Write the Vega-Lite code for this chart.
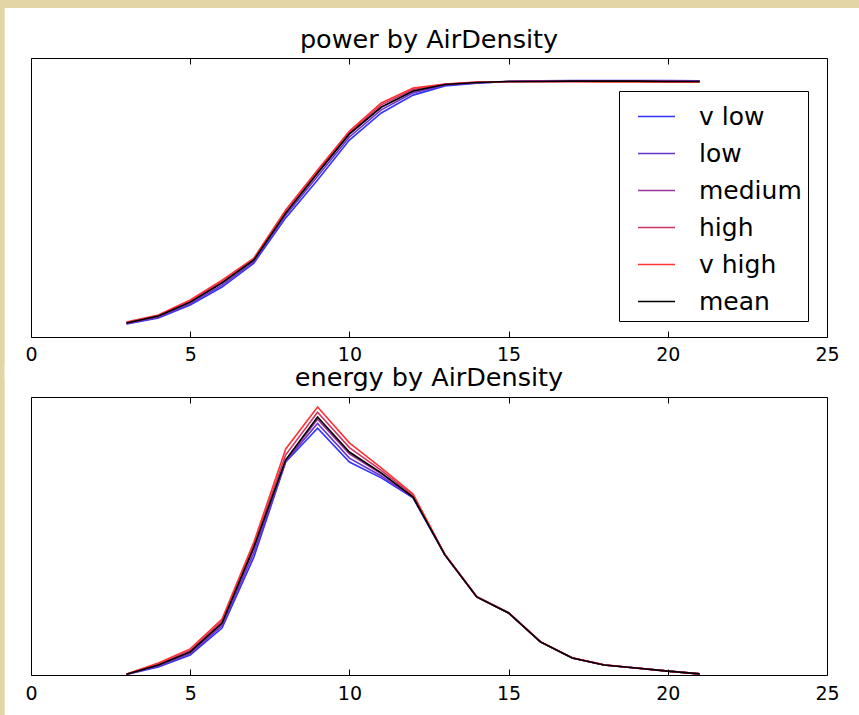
{
  "$schema": "https://vega.github.io/schema/vega-lite/v6.json",
  "background": "#e3d5a6",
  "padding": {"left": 4, "top": 8, "right": 0, "bottom": 0},
  "autosize": {"type": "pad"},
  "bounds": "flush",
  "spacing": 60,
  "config": {
    "font": "DejaVu Sans",
    "view": {"stroke": null},
    "title": {"font": "DejaVu Sans", "fontSize": 25.5, "fontWeight": "normal", "color": "black", "offset": 0},
    "axis": {"grid": false, "labelFont": "DejaVu Sans", "labelFontSize": 19, "labelColor": "black", "labelFlush": false, "domain": true, "domainColor": "black", "domainWidth": 1, "tickColor": "black", "tickSize": -6, "tickWidth": 1, "title": null, "zindex": 2, "labelPadding": 15},
    "legend": {"labelFont": "DejaVu Sans"}
  },
  "datasets": {
    "power": [
      {"ws": 3, "v low": 0.047, "low": 0.048, "medium": 0.050, "high": 0.052, "v high": 0.054, "mean": 0.050},
      {"ws": 4, "v low": 0.068, "low": 0.071, "medium": 0.074, "high": 0.077, "v high": 0.079, "mean": 0.075},
      {"ws": 5, "v low": 0.115, "low": 0.119, "medium": 0.124, "high": 0.129, "v high": 0.133, "mean": 0.125},
      {"ws": 6, "v low": 0.179, "low": 0.186, "medium": 0.193, "high": 0.199, "v high": 0.204, "mean": 0.194},
      {"ws": 7, "v low": 0.265, "low": 0.270, "medium": 0.276, "high": 0.280, "v high": 0.283, "mean": 0.276},
      {"ws": 8, "v low": 0.427, "low": 0.436, "medium": 0.443, "high": 0.450, "v high": 0.455, "mean": 0.444},
      {"ws": 9, "v low": 0.563, "low": 0.576, "medium": 0.587, "high": 0.594, "v high": 0.599, "mean": 0.588},
      {"ws": 10, "v low": 0.706, "low": 0.717, "medium": 0.727, "high": 0.733, "v high": 0.738, "mean": 0.728},
      {"ws": 11, "v low": 0.803, "low": 0.814, "medium": 0.823, "high": 0.832, "v high": 0.839, "mean": 0.824},
      {"ws": 12, "v low": 0.867, "low": 0.875, "medium": 0.881, "high": 0.887, "v high": 0.892, "mean": 0.882},
      {"ws": 13, "v low": 0.900, "low": 0.903, "medium": 0.905, "high": 0.906, "v high": 0.907, "mean": 0.905},
      {"ws": 14, "v low": 0.910, "low": 0.911, "medium": 0.912, "high": 0.913, "v high": 0.914, "mean": 0.912},
      {"ws": 15, "v low": 0.916, "low": 0.916, "medium": 0.916, "high": 0.916, "v high": 0.915, "mean": 0.916},
      {"ws": 16, "v low": 0.918, "low": 0.917, "medium": 0.917, "high": 0.916, "v high": 0.915, "mean": 0.916},
      {"ws": 17, "v low": 0.919, "low": 0.918, "medium": 0.917, "high": 0.916, "v high": 0.915, "mean": 0.917},
      {"ws": 18, "v low": 0.919, "low": 0.918, "medium": 0.917, "high": 0.916, "v high": 0.914, "mean": 0.917},
      {"ws": 19, "v low": 0.919, "low": 0.918, "medium": 0.917, "high": 0.916, "v high": 0.914, "mean": 0.917},
      {"ws": 20, "v low": 0.919, "low": 0.918, "medium": 0.917, "high": 0.915, "v high": 0.913, "mean": 0.916},
      {"ws": 21, "v low": 0.918, "low": 0.917, "medium": 0.916, "high": 0.915, "v high": 0.913, "mean": 0.916}
    ],
    "energy": [
      {"ws": 3, "v low": 0.002, "low": 0.003, "medium": 0.003, "high": 0.003, "v high": 0.004, "mean": 0.003},
      {"ws": 4, "v low": 0.029, "low": 0.032, "medium": 0.035, "high": 0.039, "v high": 0.043, "mean": 0.036},
      {"ws": 5, "v low": 0.072, "low": 0.077, "medium": 0.082, "high": 0.088, "v high": 0.094, "mean": 0.083},
      {"ws": 6, "v low": 0.169, "low": 0.177, "medium": 0.184, "high": 0.194, "v high": 0.201, "mean": 0.187},
      {"ws": 7, "v low": 0.424, "low": 0.440, "medium": 0.455, "high": 0.468, "v high": 0.478, "mean": 0.460},
      {"ws": 8, "v low": 0.766, "low": 0.769, "medium": 0.772, "high": 0.792, "v high": 0.813, "mean": 0.774},
      {"ws": 9, "v low": 0.888, "low": 0.905, "medium": 0.920, "high": 0.945, "v high": 0.964, "mean": 0.928},
      {"ws": 10, "v low": 0.766, "low": 0.780, "medium": 0.795, "high": 0.818, "v high": 0.835, "mean": 0.802},
      {"ws": 11, "v low": 0.709, "low": 0.716, "medium": 0.724, "high": 0.736, "v high": 0.745, "mean": 0.727},
      {"ws": 12, "v low": 0.637, "low": 0.638, "medium": 0.640, "high": 0.646, "v high": 0.651, "mean": 0.640},
      {"ws": 13, "v low": 0.431, "low": 0.432, "medium": 0.432, "high": 0.433, "v high": 0.434, "mean": 0.432},
      {"ws": 14, "v low": 0.281, "low": 0.281, "medium": 0.281, "high": 0.281, "v high": 0.282, "mean": 0.281},
      {"ws": 15, "v low": 0.223, "low": 0.223, "medium": 0.223, "high": 0.223, "v high": 0.224, "mean": 0.223},
      {"ws": 16, "v low": 0.119, "low": 0.119, "medium": 0.119, "high": 0.119, "v high": 0.120, "mean": 0.119},
      {"ws": 17, "v low": 0.061, "low": 0.061, "medium": 0.061, "high": 0.061, "v high": 0.062, "mean": 0.061},
      {"ws": 18, "v low": 0.036, "low": 0.036, "medium": 0.036, "high": 0.036, "v high": 0.037, "mean": 0.036},
      {"ws": 19, "v low": 0.025, "low": 0.025, "medium": 0.025, "high": 0.025, "v high": 0.025, "mean": 0.025},
      {"ws": 20, "v low": 0.014, "low": 0.014, "medium": 0.014, "high": 0.014, "v high": 0.014, "mean": 0.014},
      {"ws": 21, "v low": 0.004, "low": 0.004, "medium": 0.004, "high": 0.004, "v high": 0.004, "mean": 0.004}
    ]
  },
  "vconcat": [
    {
      "title": {"text": "power by AirDensity", "dy": 49},
      "width": 796,
      "height": 279,
      "layer": [
        {
          "data": {"values": [{}]},
          "mark": {"type": "rect", "fill": "white", "clip": false},
          "encoding": {
            "x": {"datum": -0.826, "type": "quantitative", "scale": {"domain": [0, 25], "nice": false, "zero": false}, "axis": {"orient": "bottom", "values": [0, 5, 10, 15, 20, 25], "format": "d", "zindex": 2, "labelFontSize": 19, "labelPadding": 14, "labelFlush": false}},
            "x2": {"datum": 26.02},
            "y": {"datum": 1.179, "type": "quantitative", "scale": {"domain": [0, 1], "nice": false, "zero": false}, "axis": {"orient": "left", "ticks": false, "labels": false, "zindex": 2}},
            "y2": {"datum": -0.154}
          }
        },
        {
          "data": {"name": "power"},
          "transform": [{"fold": ["v low", "low", "medium", "high", "v high", "mean"], "as": ["group", "value"]}],
          "mark": {"type": "line", "strokeWidth": 1.6},
          "encoding": {
            "x": {"field": "ws", "type": "quantitative", "scale": {"domain": [0, 25], "nice": false, "zero": false}, "axis": {"orient": "top", "labels": false, "values": [0, 5, 10, 15, 20, 25], "zindex": 2}},
            "y": {"field": "value", "type": "quantitative", "scale": {"domain": [0, 1], "nice": false, "zero": false}, "axis": {"orient": "right", "ticks": false, "labels": false, "zindex": 2}},
            "color": {
              "field": "group", "type": "nominal",
              "scale": {"domain": ["v low", "low", "medium", "high", "v high", "mean"], "range": ["#3333ff", "#6633cc", "#993399", "#cc3366", "#ff3333", "#000000"]},
              "legend": {"orient": "none", "legendX": 588, "legendY": 33, "title": null, "symbolType": "stroke", "symbolSize": 1369, "symbolStrokeWidth": 1.5, "symbolOffset": 12, "labelFontSize": 25, "labelColor": "black", "strokeColor": "black", "fillColor": "white", "padding": 6, "rowPadding": 4, "labelOffset": 23, "zindex": 3}
            }
          }
        }
      ],
      "resolve": {"axis": {"x": "independent", "y": "independent"}}
    },
    {
      "title": {"text": "energy by AirDensity", "dy": 30},
      "width": 796,
      "height": 278,
      "layer": [
        {
          "data": {"values": [{}]},
          "mark": {"type": "rect", "fill": "white", "clip": false},
          "encoding": {
            "x": {"datum": -0.826, "type": "quantitative", "scale": {"domain": [0, 25], "nice": false, "zero": false}, "axis": {"orient": "bottom", "values": [0, 5, 10, 15, 20, 25], "format": "d", "zindex": 2, "labelFontSize": 19, "labelPadding": 15, "labelFlush": false}},
            "x2": {"datum": 26.02},
            "y": {"datum": 1.115, "type": "quantitative", "scale": {"domain": [0, 1], "nice": false, "zero": false}, "axis": {"orient": "left", "ticks": false, "labels": false, "zindex": 2}},
            "y2": {"datum": -0.144}
          }
        },
        {
          "data": {"name": "energy"},
          "transform": [{"fold": ["v low", "low", "medium", "high", "v high", "mean"], "as": ["group", "value"]}],
          "mark": {"type": "line", "strokeWidth": 1.6},
          "encoding": {
            "x": {"field": "ws", "type": "quantitative", "scale": {"domain": [0, 25], "nice": false, "zero": false}, "axis": {"orient": "top", "labels": false, "values": [0, 5, 10, 15, 20, 25], "zindex": 2}},
            "y": {"field": "value", "type": "quantitative", "scale": {"domain": [0, 1], "nice": false, "zero": false}, "axis": {"orient": "right", "ticks": false, "labels": false, "zindex": 2}},
            "color": {
              "field": "group", "type": "nominal",
              "scale": {"domain": ["v low", "low", "medium", "high", "v high", "mean"], "range": ["#3333ff", "#6633cc", "#993399", "#cc3366", "#ff3333", "#000000"]},
              "legend": null
            }
          }
        }
      ],
      "resolve": {"axis": {"x": "independent", "y": "independent"}}
    }
  ],
  "resolve": {"legend": {"color": "independent"}}
}
